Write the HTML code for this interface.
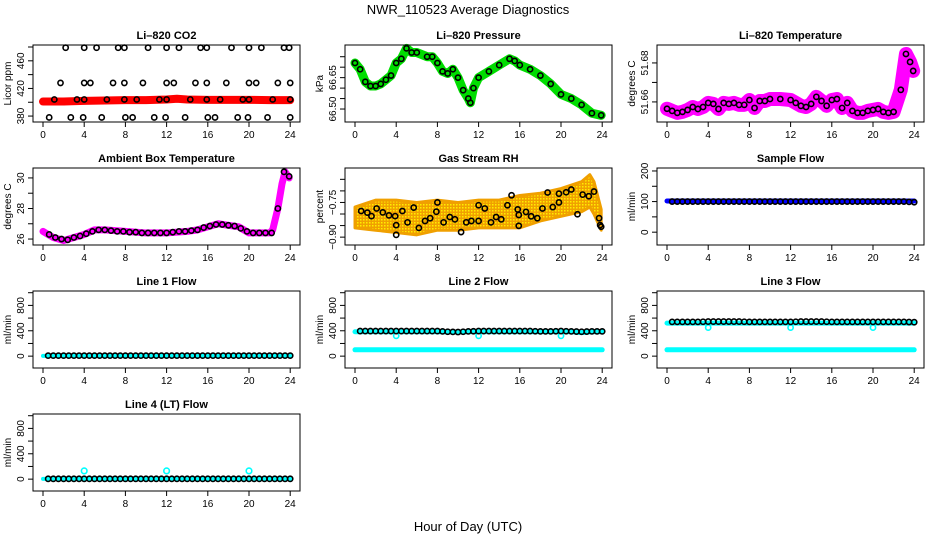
<!DOCTYPE html>
<html><head><meta charset="utf-8"><style>
body{margin:0;background:#fff;}
svg{display:block;font-family:"Liberation Sans",sans-serif;}
</style></head><body>
<svg id="c" width="936" height="540" viewBox="0 0 936 540">
<defs>
<pattern id="rhpat" width="3" height="3" patternUnits="userSpaceOnUse"><rect width="3" height="3" fill="#f0a000"/><rect x="0" y="0" width="1.5" height="1.5" fill="#ffee00"/></pattern>
</defs>
<text x="468" y="14" text-anchor="middle" font-size="13">NWR_110523  Average Diagnostics</text>
<text x="468" y="531" text-anchor="middle" font-size="13">Hour of Day (UTC)</text>
</svg>
<script>
// ---- data ----
const xTicks=[0,4,8,12,16,20,24];
// CO2
const co2BandHours=[0,2,4,6,8,10,12,13,14,16,18,20,22,24];
const co2BandVals=[401,401,402,402.5,403,403,404,405,404,403.5,403.5,403.5,403,403];
const co2DotHours=[2.2,4.0,5.2,7.3,7.9,10.2,12.0,13.2,15.3,15.9,18.3,20.0,21.2,23.4,23.9,
1.7,4.0,4.6,6.8,7.9,9.7,12.0,12.7,14.8,15.9,17.8,20.0,20.7,22.8,24.0,
1.1,3.3,4.0,6.2,7.9,9.1,11.3,12.0,14.3,15.9,17.2,19.4,20.0,22.3,24.0,
0.6,2.7,3.9,5.7,8.0,8.7,10.8,11.9,13.8,16.0,16.7,18.9,19.9,21.8,24.0];
const co2DotVals=[479,479,479,479,479,479,479,479,479,479,479,479,479,479,479,
428,428,428,428,428,428,428,428,428,428,428,428,428,428,428,
404,404,404,404,404,404,404,404,404,404,404,404,404,404,404,
378,378,378,378,378,378,378,378,378,378,378,378,378,378,378];
// Pressure
const presHours=[0,0.5,1,1.5,2,2.5,3,3.5,4,4.5,5,5.5,6,7,7.5,8,8.5,9,9.5,10,10.5,11,11.2,11.5,12,13,14,15,15.5,16,17,18,19,20,21,22,23,23.9];
const presVals=[66.72,66.69,66.63,66.61,66.61,66.62,66.64,66.66,66.72,66.74,66.79,66.77,66.77,66.75,66.75,66.72,66.68,66.67,66.69,66.65,66.59,66.55,66.53,66.60,66.65,66.68,66.71,66.74,66.73,66.71,66.69,66.66,66.62,66.57,66.55,66.52,66.48,66.47];
// Li-820 temperature
const tempHours=[0,0.5,1,1.5,2,2.5,3,3.5,4,4.5,5,5.5,6,6.5,7,7.5,8,8.5,9,9.5,10,11,12,12.5,13,13.5,14,14.5,15,15.5,16,16.5,17,17.5,18,18.5,19,19.5,20,20.5,21,21.5,22,22.7,23.2,23.6,23.9];
const tempVals=[51.6565,51.6554,51.6544,51.6549,51.6559,51.6574,51.6564,51.6574,51.6595,51.659,51.6564,51.6595,51.659,51.6595,51.6585,51.6585,51.661,51.6569,51.6605,51.6605,51.6615,51.6615,51.661,51.6595,51.658,51.6574,51.659,51.6626,51.6605,51.658,51.661,51.6615,51.6569,51.6595,51.6554,51.6544,51.6544,51.6554,51.6559,51.6564,51.6549,51.6544,51.6549,51.6662,51.6846,51.6805,51.6759];
// Ambient box temperature
const ambHours=[0,0.5,1,1.5,2,3,4,5,6,8,10,12,14,15,16,17,18,19,20,21,22,22.3,22.8,23.2,23.5,23.9];
const ambVals=[26.5,26.3,26.1,26.0,25.9,26.1,26.3,26.6,26.6,26.5,26.4,26.4,26.5,26.6,26.8,27.0,26.9,26.8,26.4,26.4,26.4,26.6,28.0,29.6,30.4,30.0];
const ambDotHours=[0.6,1.2,1.8,2.4,3,3.6,4.2,4.8,5.4,6,6.6,7.2,7.8,8.4,9,9.6,10.2,10.8,11.4,12,12.6,13.2,13.8,14.4,15,15.6,16.2,16.8,17.4,18,18.6,19.2,19.8,20.4,21,21.6,22.2,22.8,23.4,23.9];
const ambDotVals=[26.3,26.1,26.0,25.95,26.1,26.2,26.35,26.5,26.6,26.6,26.55,26.5,26.5,26.45,26.45,26.4,26.4,26.4,26.4,26.4,26.45,26.5,26.5,26.55,26.6,26.75,26.85,26.95,26.95,26.9,26.85,26.7,26.5,26.4,26.4,26.4,26.4,28.0,30.4,30.1];
// Gas stream RH
const rhBandHours=[0,2,4,6,8,10,12,14,16,18,20,22,22.8,23.2,23.9];
const rhLow=[-0.86,-0.87,-0.88,-0.89,-0.87,-0.87,-0.86,-0.86,-0.86,-0.83,-0.81,-0.79,-0.77,-0.80,-0.87];
const rhHigh=[-0.77,-0.74,-0.74,-0.75,-0.74,-0.75,-0.74,-0.74,-0.72,-0.71,-0.69,-0.66,-0.63,-0.66,-0.78];
const rhDotHours=[0.6,1.2,1.6,2.1,2.7,3.3,3.9,4.0,4.0,4.6,5.1,5.7,6.2,6.8,7.3,7.9,8.0,8.6,9.2,9.7,10.3,10.8,11.3,12.0,12.0,12.6,13.2,13.7,14.2,14.8,15.2,15.8,15.9,15.9,16.6,17.1,17.7,18.2,18.7,19.2,19.8,19.8,20.5,21.0,21.6,22.1,22.7,23.2,23.7,23.8,23.9];
const rhDotVals=[-0.787,-0.794,-0.809,-0.776,-0.793,-0.806,-0.809,-0.848,-0.89,-0.787,-0.836,-0.772,-0.86,-0.83,-0.818,-0.79,-0.75,-0.836,-0.813,-0.823,-0.878,-0.836,-0.83,-0.83,-0.762,-0.776,-0.836,-0.813,-0.823,-0.762,-0.719,-0.78,-0.804,-0.851,-0.791,-0.81,-0.818,-0.776,-0.707,-0.77,-0.75,-0.712,-0.706,-0.694,-0.801,-0.716,-0.723,-0.703,-0.818,-0.848,-0.855];
// Flows (hourly, 0..24)
const hrs=[0,1,2,3,4,5,6,7,8,9,10,11,12,13,14,15,16,17,18,19,20,21,22,23,24];
const sampleBand=[102,102,102,102,102,102,102,102,102,102,102,102,102,102,102,102,102,102,102,102,102,102,102,102,102];
const sampleDots=[100,100,100,100,100,100,100,100,100,100,100,100,100,100,100,100,100,100,100,100,100,100,100,100,98];
const line1Cyan=[5,5,5,5,5,5,5,5,5,5,5,5,5,5,5,5,5,5,5,5,5,5,5,5,5];
const line1Dots=[8,8,8,8,8,8,8,8,8,8,8,8,8,8,8,8,8,8,8,8,8,8,8,8,8];
const line2High=[385,385,385,385,320,385,385,385,385,380,380,385,320,385,385,385,385,385,385,385,320,385,370,385,385];
const line2Low=[100,100,100,100,100,100,100,100,100,100,100,100,100,100,100,100,100,100,100,100,100,100,100,100,100];
const line2Dots=[395,395,395,395,395,395,395,395,395,385,380,390,395,395,395,395,395,395,390,390,395,390,385,390,390];
const line3High=[520,520,520,520,450,520,520,520,520,520,520,520,450,520,520,520,520,520,520,520,450,520,520,520,520];
const line3Low=[100,100,100,100,100,100,100,100,100,100,100,100,100,100,100,100,100,100,100,100,100,100,100,100,100];
const line3Dots=[540,540,540,540,545,545,545,545,540,540,540,540,540,545,545,545,540,540,540,540,540,540,540,540,535];
const line4Cyan=[5,5,5,5,130,5,5,5,5,5,5,5,130,5,5,5,5,5,5,5,130,5,5,5,5];
const line4Dots=[5,5,5,5,5,5,5,5,5,5,5,5,5,5,5,5,5,5,5,5,5,5,5,5,5];

// ---- drawing ----
const svg=document.getElementById('c');
const NS='http://www.w3.org/2000/svg';
function mk(tag,attrs,parent){const e=document.createElementNS(NS,tag);for(const k in attrs)e.setAttribute(k,attrs[k]);(parent||svg).appendChild(e);return e;}

function panel(col,row,cfg){
  const L=33+312*col, T=45+123*row, W=267, H=77;
  const g=mk('g',{});
  
  
  const xs=h=>L+10+h*10.3;
  const ys=v=>T+H-(v-cfg.ymin)/(cfg.ymax-cfg.ymin)*H;
  const t=mk('text',{x:L+W/2,y:T-6,'text-anchor':'middle','font-size':'11','font-weight':'bold'},g);
  t.textContent=cfg.title;
  
  
  const sg=mk('g',{},g);
  cfg.draw(sg,xs,ys);
  const b=mk('rect',{x:L,y:T,width:W,height:H,fill:'none',stroke:'#000','stroke-width':1},g);
  
  
  const xa=mk('g',{},g);
  
  
  mk('line',{x1:xs(0),x2:xs(24),y1:T+H,y2:T+H,stroke:'#000'},xa);
  xTicks.forEach(v=>{
    mk('line',{x1:xs(v),x2:xs(v),y1:T+H,y2:T+H+5,stroke:'#000'},xa);
    const tx=mk('text',{x:xs(v),y:T+H+16,'text-anchor':'middle','font-size':'10'},xa);
    tx.textContent=v;
  });
  const ya=mk('g',{},g);
  
  
  const tk=cfg.yticks;
  mk('line',{x1:L,x2:L,y1:ys(tk[0]),y2:ys(tk[tk.length-1]),stroke:'#000'},ya);
  tk.forEach(v=>mk('line',{x1:L-5,x2:L,y1:ys(v),y2:ys(v),stroke:'#000'},ya));
  cfg.ylabels.forEach((v,i)=>{
    const s=cfg.ylabelText?cfg.ylabelText[i]:String(v);
    const tx=mk('text',{x:L-9,y:ys(v),'text-anchor':'middle','font-size':'10',transform:`rotate(-90 ${L-9} ${ys(v)})`},ya);
    tx.textContent=s;
  });
  const yt=mk('text',{x:L-22,y:T+H/2,'text-anchor':'middle','font-size':'10',transform:`rotate(-90 ${L-22} ${T+H/2})`},g);
  yt.textContent=cfg.ylab;
  
  
}
function band(g,xs,ys,H,V,color,w,name){
  const p=mk('polyline',{points:H.map((h,i)=>xs(h)+','+ys(V[i])).join(' '),fill:'none',stroke:color,'stroke-width':w,'stroke-linejoin':'round','stroke-linecap':'round'},g);
  
  
}
function dots(g,xs,ys,H,V,color,r,name,sw){
  const dg=mk('g',{},g);
  
  
  H.forEach((h,i)=>{
    mk('circle',{cx:xs(h),cy:ys(V[i]),r:r||2.6,fill:'none',stroke:color,'stroke-width':sw||1.6},dg);
  });
}
function halfDots(g,xs,ys,H,V,color,name){
  const HH=[],VV=[];
  for(let i=0;i<H.length;i++){HH.push(H[i]);VV.push(V[i]);
    if(i<H.length-1){HH.push((H[i]+H[i+1])/2);VV.push((V[i]+V[i+1])/2);}}
  dots(g,xs,ys,HH.slice(1),VV.slice(1),color,2.6,name);
}

panel(0,0,{name:'co2',title:'Li\u2013820 CO2',ylab:'Licor ppm',ymin:371.4,ymax:482.9,yticks:[380,400,420,440,460,480],ylabels:[380,420,460],
 draw:(g,xs,ys)=>{band(g,xs,ys,co2BandHours,co2BandVals,'#ff0000',8,'co2-red-series');dots(g,xs,ys,co2DotHours,co2DotVals,'#000',2.6,'co2-black-points');}});
panel(1,0,{name:'pressure',title:'Li\u2013820 Pressure',ylab:'kPa',ymin:66.438,ymax:66.806,yticks:[66.5,66.55,66.6,66.65,66.7,66.75],ylabels:[66.5,66.65],ylabelText:['66.50','66.65'],
 draw:(g,xs,ys)=>{band(g,xs,ys,presHours,presVals,'#00dd00',9,'pressure-green-series');dots(g,xs,ys,presHours,presVals,'#000',2.6,'pressure-black-points');}});
panel(2,0,{name:'li820-temp',title:'Li\u2013820 Temperature',ylab:'degrees C',ymin:51.6497,ymax:51.6892,yticks:[51.66,51.67,51.68],ylabels:[51.66,51.68],ylabelText:['51.66','51.68'],
 draw:(g,xs,ys)=>{band(g,xs,ys,tempHours,tempVals,'#ff00ff',14,'temp-magenta-series');dots(g,xs,ys,tempHours,tempVals,'#000',2.6,'temp-black-points');}});
panel(0,1,{name:'ambient-temp',title:'Ambient Box Temperature',ylab:'degrees C',ymin:25.61,ymax:30.65,yticks:[26,27,28,29,30],ylabels:[26,28,30],
 draw:(g,xs,ys)=>{band(g,xs,ys,ambHours,ambVals,'#ff00ff',7,'ambient-magenta-series');dots(g,xs,ys,ambDotHours,ambDotVals,'#000',2.6,'ambient-black-points');}});
panel(1,1,{name:'rh',title:'Gas Stream RH',ylab:'percent',ymin:-0.934,ymax:-0.601,yticks:[-0.9,-0.85,-0.8,-0.75,-0.7,-0.65],ylabels:[-0.9,-0.75],ylabelText:['\u22120.90','\u22120.75'],
 draw:(g,xs,ys)=>{
   const pts=rhBandHours.map((h,i)=>xs(h)+','+ys(rhHigh[i])).concat(rhBandHours.slice().reverse().map((h,j)=>xs(h)+','+ys(rhLow[rhLow.length-1-j])));
   const p=mk('polygon',{points:pts.join(' '),fill:'url(#rhpat)',stroke:'#f0a000','stroke-width':3,'stroke-linejoin':'round'},g);
   
   
   dots(g,xs,ys,rhDotHours,rhDotVals,'#000',2.6,'rh-black-points');}});
panel(2,1,{name:'sample-flow',title:'Sample Flow',ylab:'ml/min',ymin:-41.9,ymax:209.7,yticks:[0,50,100,150,200],ylabels:[0,100,200],
 draw:(g,xs,ys)=>{band(g,xs,ys,hrs,sampleBand,'#0000ff',5,'sample-blue-series');halfDots(g,xs,ys,hrs,sampleDots,'#000','sample-black-points');}});
const flowCfg={ylab:'ml/min',ymin:-187,ymax:1027,yticks:[0,200,400,600,800,1000],ylabels:[0,400,800]};
panel(0,2,Object.assign({},flowCfg,{name:'line1-flow',title:'Line 1 Flow',
 draw:(g,xs,ys)=>{band(g,xs,ys,hrs,line1Cyan,'#00ffff',4,'line1-cyan-series');halfDots(g,xs,ys,hrs,line1Dots,'#000','line1-black-points');}}));
panel(1,2,Object.assign({},flowCfg,{name:'line2-flow',title:'Line 2 Flow',
 draw:(g,xs,ys)=>{band(g,xs,ys,hrs,line2Low,'#00ffff',5,'line2-cyan-low-series');band(g,xs,ys,hrs,line2High.map(v=>v>350?v:385),'#00ffff',5,'line2-cyan-high-series');dots(g,xs,ys,hrs.filter((h,i)=>line2High[i]<350),line2High.filter(v=>v<350),'#00ffff',2.6,'line2-cyan-dips');halfDots(g,xs,ys,hrs,line2Dots,'#000','line2-black-points');}}));
panel(2,2,Object.assign({},flowCfg,{name:'line3-flow',title:'Line 3 Flow',
 draw:(g,xs,ys)=>{band(g,xs,ys,hrs,line3Low,'#00ffff',5,'line3-cyan-low-series');band(g,xs,ys,hrs,line3High.map(v=>v>480?v:520),'#00ffff',5,'line3-cyan-high-series');dots(g,xs,ys,hrs.filter((h,i)=>line3High[i]<480),line3High.filter(v=>v<480),'#00ffff',2.6,'line3-cyan-dips');halfDots(g,xs,ys,hrs,line3Dots,'#000','line3-black-points');}}));
panel(0,3,Object.assign({},flowCfg,{name:'line4-flow',title:'Line 4 (LT) Flow',
 draw:(g,xs,ys)=>{band(g,xs,ys,hrs,line4Cyan.map(v=>v>50?5:v),'#00ffff',4,'line4-cyan-series');dots(g,xs,ys,hrs.filter((h,i)=>line4Cyan[i]>50),line4Cyan.filter(v=>v>50),'#00ffff',2.8,'line4-cyan-spikes');halfDots(g,xs,ys,hrs,line4Dots,'#000','line4-black-points');}}));
</script>
</body></html>
